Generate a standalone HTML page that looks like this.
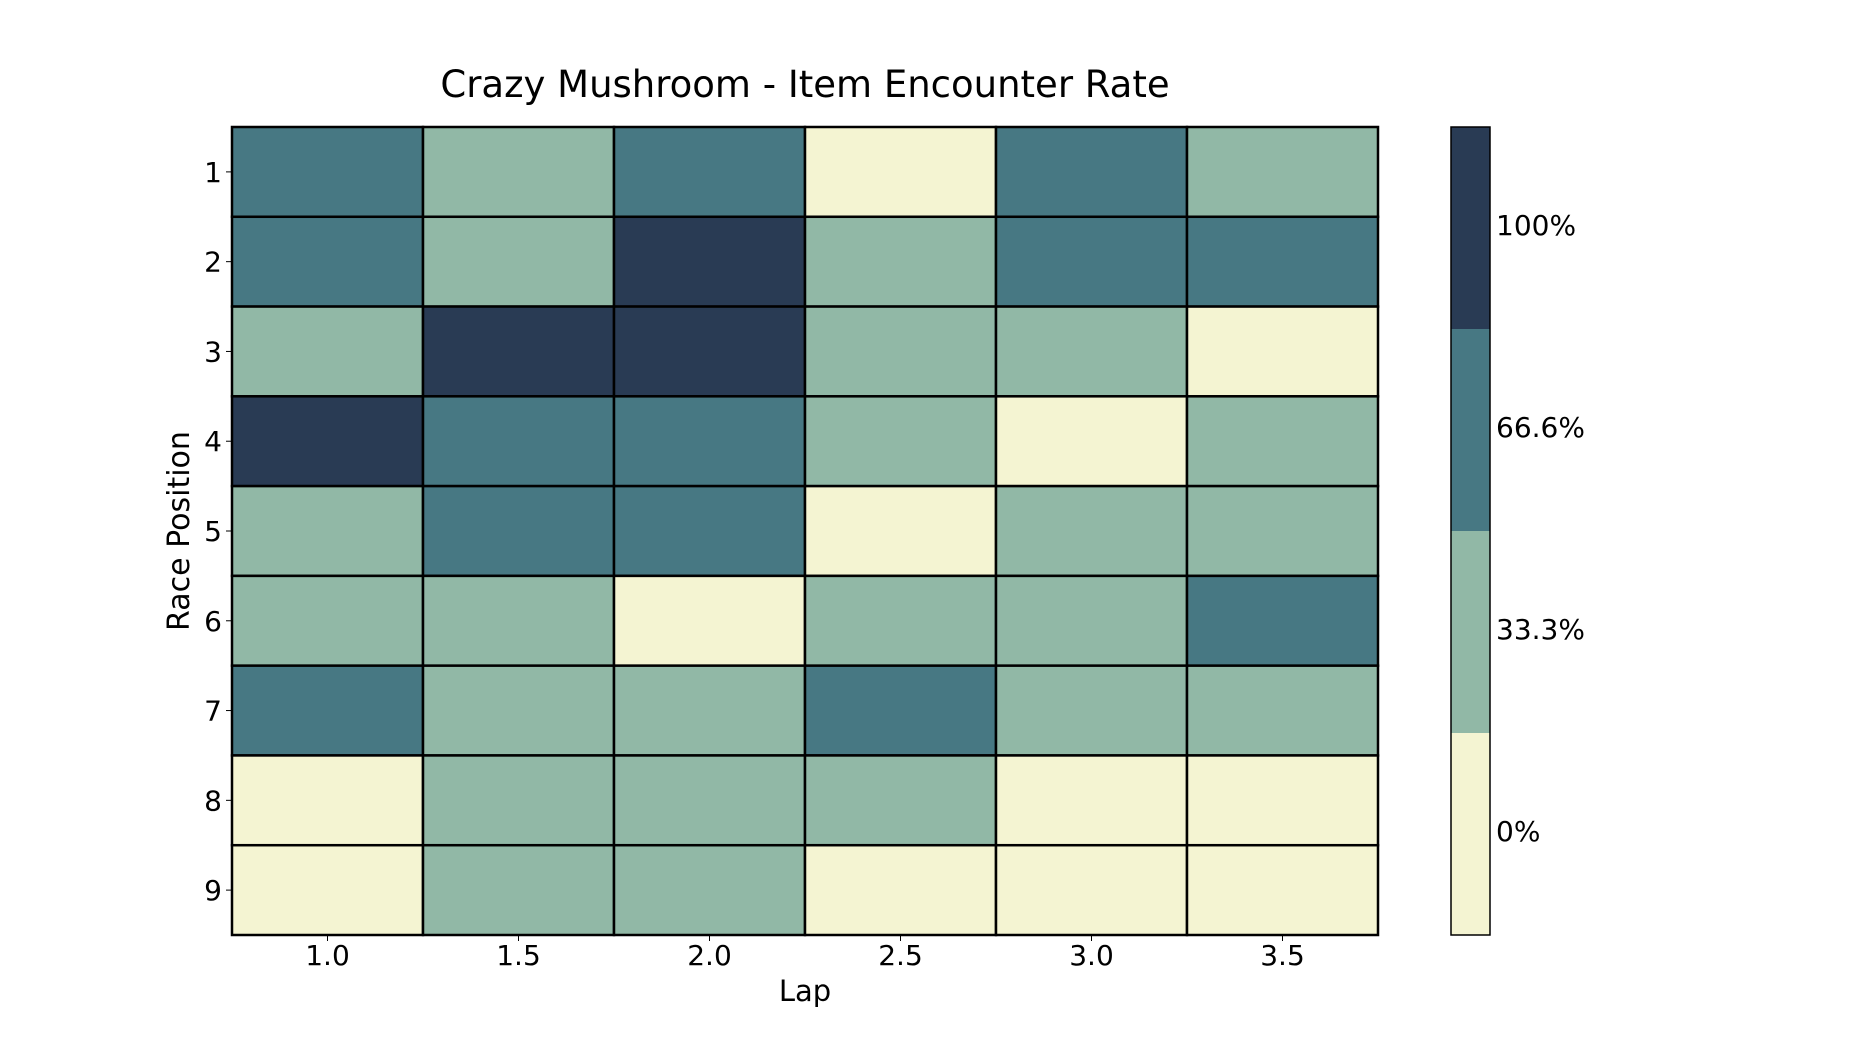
<!DOCTYPE html>
<html><head><meta charset="utf-8"><style>
html,body{margin:0;padding:0;background:#fff;}
svg text{font-family:"DejaVu Sans","Liberation Sans",sans-serif;fill:#000;}
</style></head><body>
<svg id="chart" width="1850" height="1050" xmlns="http://www.w3.org/2000/svg">
<text x="805" y="97" font-size="37" text-anchor="middle">Crazy Mushroom - Item Encounter Rate</text>
<g id="cells"></g>
<g id="xt"></g>
<g id="yt"></g>
<text x="805" y="1001" font-size="29" text-anchor="middle">Lap</text>
<text transform="translate(189,531) rotate(-90)" font-size="30" text-anchor="middle">Race Position</text>
<g id="cb"></g>
</svg>
<script>
const laps = ["1.0","1.5","2.0","2.5","3.0","3.5"];
const positions = ["1","2","3","4","5","6","7","8","9"];
const levels = [
 [2,1,2,0,2,1],
 [2,1,3,1,2,2],
 [1,3,3,1,1,0],
 [3,2,2,1,0,1],
 [1,2,2,0,1,1],
 [1,1,0,1,1,2],
 [2,1,1,2,1,1],
 [0,1,1,1,0,0],
 [0,1,1,0,0,0]
];
const cbLabels = ["0%","33.3%","66.6%","100%"];
const palette = ["#f4f4d2","#91b8a6","#477883","#293b54"];
const NS="http://www.w3.org/2000/svg";
const L=232,R=1378,T=127,B=935;
const cw=(R-L)/laps.length, rh=(B-T)/positions.length;
const xs=i=>L+i*cw, ys=j=>T+j*rh;
function mk(tag,attrs,parent){const e=document.createElementNS(NS,tag);for(const k in attrs)e.setAttribute(k,attrs[k]);parent.appendChild(e);return e;}
const cells=document.getElementById('cells');
levels.forEach((row,j)=>row.forEach((v,i)=>{
 const r=mk('rect',{x:xs(i),y:ys(j),width:cw,height:rh,fill:palette[v],stroke:'#000','stroke-width':2.5},cells);
 
 
}));
const xt=document.getElementById('xt');
laps.forEach((l,i)=>{
 const cx=xs(i)+cw/2;
 mk('line',{x1:cx,x2:cx,y1:B,y2:B+6,stroke:'#000','stroke-width':1},xt);
 const t=mk('text',{x:cx,y:965,'font-size':28,'text-anchor':'middle'},xt);t.textContent=l;
 
 
});
const yt=document.getElementById('yt');
positions.forEach((p,j)=>{
 const cy=ys(j)+rh/2;
 mk('line',{x1:L-6,x2:L,y1:cy,y2:cy,stroke:'#000','stroke-width':1},yt);
 const t=mk('text',{x:L-10,y:cy+10,'font-size':28,'text-anchor':'end'},yt);t.textContent=p;
 
 
});
const cb=document.getElementById('cb');
const CL=1451,CR=1490,sh=(B-T)/palette.length;
palette.forEach((c,k)=>{
 const y=B-(k+1)*sh;
 const r=mk('rect',{x:CL,y:y,width:CR-CL,height:sh,fill:c},cb);
 
 
 const t=mk('text',{x:CR+6,y:y+sh/2+7,'font-size':28},cb);t.textContent=cbLabels[k];
 
 
});
mk('rect',{x:CL,y:T,width:CR-CL,height:B-T,fill:'none',stroke:'#000','stroke-width':1.5},cb);
</script>
</body></html>
